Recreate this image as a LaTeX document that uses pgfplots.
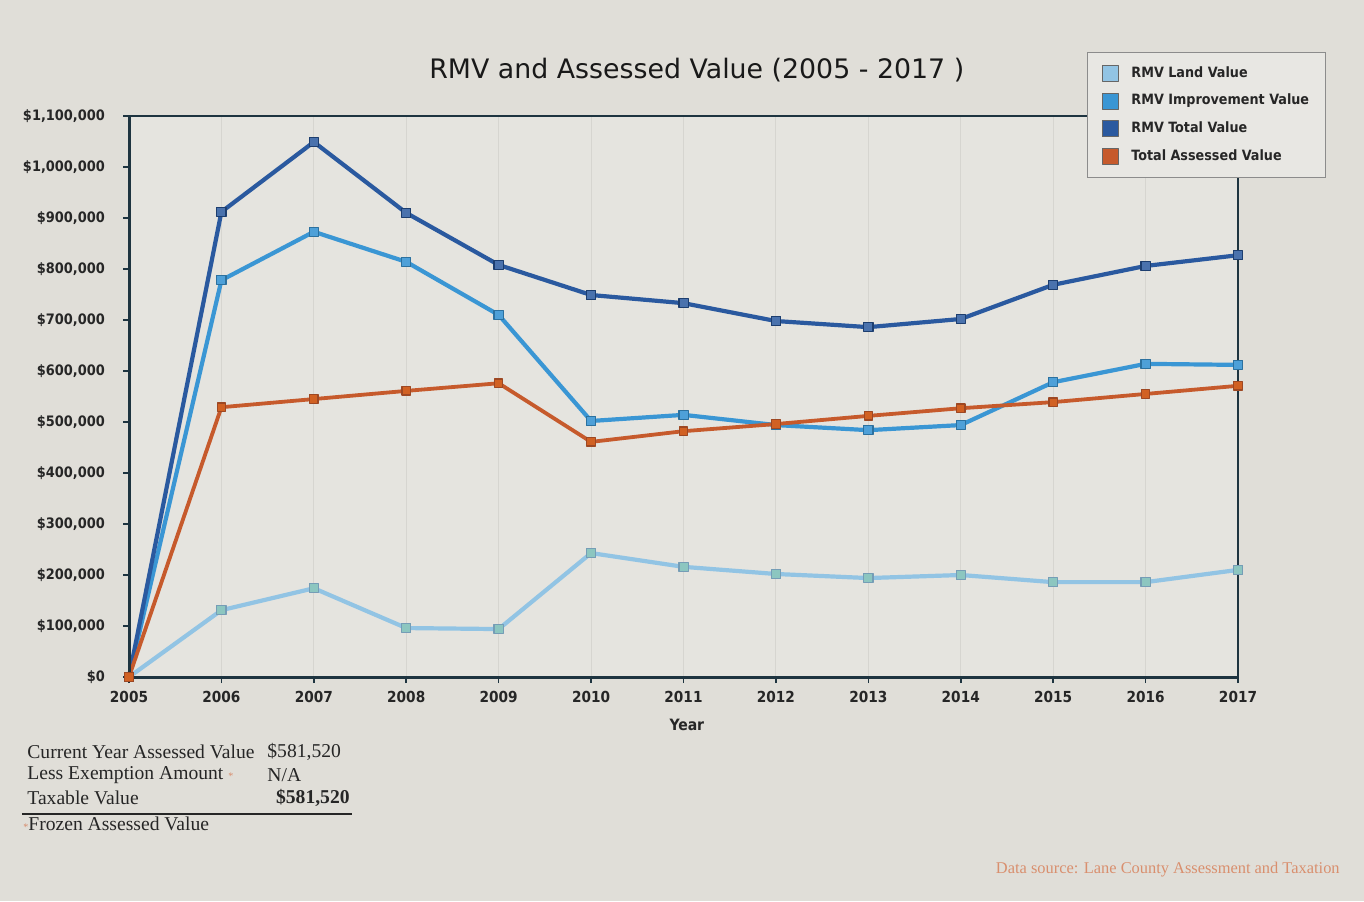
\documentclass[border=0pt]{standalone}
\usepackage{fontspec}
\setmainfont{DejaVu Sans}
\newfontfamily\serif{Liberation Serif}
\newfontfamily\cond{DejaVu Sans Condensed}
\usepackage{pgfplots}
\pgfplotsset{compat=1.18}
\definecolor{bg}{HTML}{E0DED8}
\definecolor{plotbg}{HTML}{E5E4DF}
\definecolor{gridc}{HTML}{D6D5D0}
\definecolor{axisc}{HTML}{1E3440}
\definecolor{landc}{HTML}{92C4E4}
\definecolor{landm}{HTML}{8CC6C0}
\definecolor{imprc}{HTML}{3A96D4}
\definecolor{totalc}{HTML}{2A599F}
\definecolor{assc}{HTML}{C65A2C}
\definecolor{legbg}{HTML}{E8E7E3}
\definecolor{srcc}{HTML}{D98F6E}
\begin{document}
\begin{tikzpicture}
\fill[bg] (-64.5pt,-112pt) rectangle (617.5pt,338.5pt);
\begin{axis}[
  at={(0pt,0pt)}, anchor=south west,
  scale only axis, width=554.5pt, height=280.5pt,
  xmin=2005, xmax=2017, ymin=0, ymax=1100000,
  xtick={2005,2006,...,2017},
  xticklabels={2005,2006,2007,2008,2009,2010,2011,2012,2013,2014,2015,2016,2017},
  ytick={0,100000,200000,300000,400000,500000,600000,700000,800000,900000,1000000,1100000},
  yticklabels={{\$0},{\$100,000},{\$200,000},{\$300,000},{\$400,000},{\$500,000},{\$600,000},{\$700,000},{\$800,000},{\$900,000},{\$1,000,000},{\$1,100,000}},
  scaled y ticks=false,
  xtick pos=bottom, ytick pos=left,
  tick align=outside, major tick length=3pt,
  tick style={draw=axisc, line width=0.8pt},
  axis line style={draw=axisc, line width=0.6pt},
  axis background/.style={fill=plotbg},
  xmajorgrids, grid style={draw=gridc, line width=0.5pt},
  yticklabel style={font=\cond\bfseries\fontsize{7.2}{8}\selectfont, text=black!85, xshift=-5.5pt},
  xticklabel style={font=\cond\bfseries\fontsize{7.6}{8.5}\selectfont, text=black!85, yshift=-0.5pt},
  xlabel={Year},
  xlabel style={at={(axis description cs:0.503,-0.0856)}, anchor=center, font=\cond\bfseries\fontsize{7.8}{9}\selectfont, text=black!85},
  legend style={at={(axis description cs:0.8638,1.114)}, anchor=north west, draw=black!45, line width=0.5pt, fill=legbg,
    font=\cond\bfseries\fontsize{7.1}{8.5}\selectfont, text=black!85, row sep=2.9pt, inner xsep=6pt, inner ysep=5pt, cells={anchor=west}},
  legend image code/.code={\filldraw[#1, draw=black!60, line width=0.5pt, solid] (1.5pt,-4pt) rectangle (9.5pt,4pt); \path[draw=none, fill=none] (0pt,0pt) -- (14pt,0pt);},
  every axis plot/.append style={line width=2.1pt, mark=square*, mark size=2.3pt, line join=round},
  clip=false,
]
\addplot[color=landc, mark options={fill=landm, draw=landc!80!black, line width=0.6pt}] coordinates {
 (2005,0) (2006,131000) (2007,174000) (2008,96000) (2009,94000) (2010,243000) (2011,216000)
 (2012,202000) (2013,194000) (2014,200000) (2015,186000) (2016,186000) (2017,210000)};
\addlegendentry{RMV Land Value}
\addplot[color=imprc, mark options={fill=imprc!90!white, draw=imprc!75!black, line width=0.6pt}] coordinates {
 (2005,0) (2006,778000) (2007,873000) (2008,814000) (2009,710000) (2010,502000) (2011,514000)
 (2012,494000) (2013,484000) (2014,494000) (2015,578000) (2016,614000) (2017,612000)};
\addlegendentry{RMV Improvement Value}
\addplot[color=totalc, mark options={fill=totalc!85!white, draw=totalc!70!black, line width=0.6pt}] coordinates {
 (2005,0) (2006,912000) (2007,1049000) (2008,910000) (2009,808000) (2010,749000) (2011,733000)
 (2012,698000) (2013,686000) (2014,702000) (2015,769000) (2016,806000) (2017,827000)};
\addlegendentry{RMV Total Value}
\addplot[color=assc, line width=1.9pt, mark options={fill=assc!80!orange, draw=assc!80!black, line width=0.6pt}, mark size=2.1pt] coordinates {
 (2005,0) (2006,529000) (2007,545000) (2008,561000) (2009,576000) (2010,461000) (2011,482000)
 (2012,496000) (2013,512000) (2014,527000) (2015,539000) (2016,555000) (2017,571000)};
\addlegendentry{Total Assessed Value}
\draw[axisc, line width=1.5pt] (rel axis cs:0,1) -- (rel axis cs:0,0) -- (rel axis cs:1,0);
\node[anchor=center, font=\fontsize{13.4}{15}\selectfont, text=black!90] at (rel axis cs:0.512,1.082) {RMV and Assessed Value (2005 - 2017 )};
\end{axis}
\begin{scope}[font=\serif\fontsize{9.8}{11}\selectfont, text=black!85]
\node[anchor=west, inner sep=0pt] at (-51pt,-37.5pt) {Current Year Assessed Value};
\node[anchor=west, inner sep=0pt] at (-51pt,-49pt) {Less Exemption Amount \textcolor{assc!70!white}{\fontsize{5}{5}\selectfont *}};
\node[anchor=west, inner sep=0pt] at (-51pt,-60.5pt) {Taxable Value};
\node[anchor=west, inner sep=0pt] at (69pt,-37.5pt) {\$581,520};
\node[anchor=west, inner sep=0pt] at (69pt,-49pt) {N/A};
\node[anchor=east, inner sep=0pt] at (110.5pt,-60.5pt) {\bfseries \$581,520};
\draw[black!85, line width=0.8pt] (-53.5pt,-68.5pt) -- (111.5pt,-68.5pt);
\node[anchor=west, inner sep=0pt] at (-53pt,-73.5pt) {\textcolor{assc!70!white}{\fontsize{5}{5}\selectfont *}Frozen Assessed Value};
\end{scope}
\node[anchor=east, inner sep=0pt, font=\serif\fontsize{8.2}{9}\selectfont, text=srcc] at (605.5pt,-96.5pt) {Data source: Lane County Assessment and Taxation};
\pgfresetboundingbox
\path (-64.5pt,-112pt) rectangle (617.5pt,338.5pt);
\end{tikzpicture}
\end{document}
